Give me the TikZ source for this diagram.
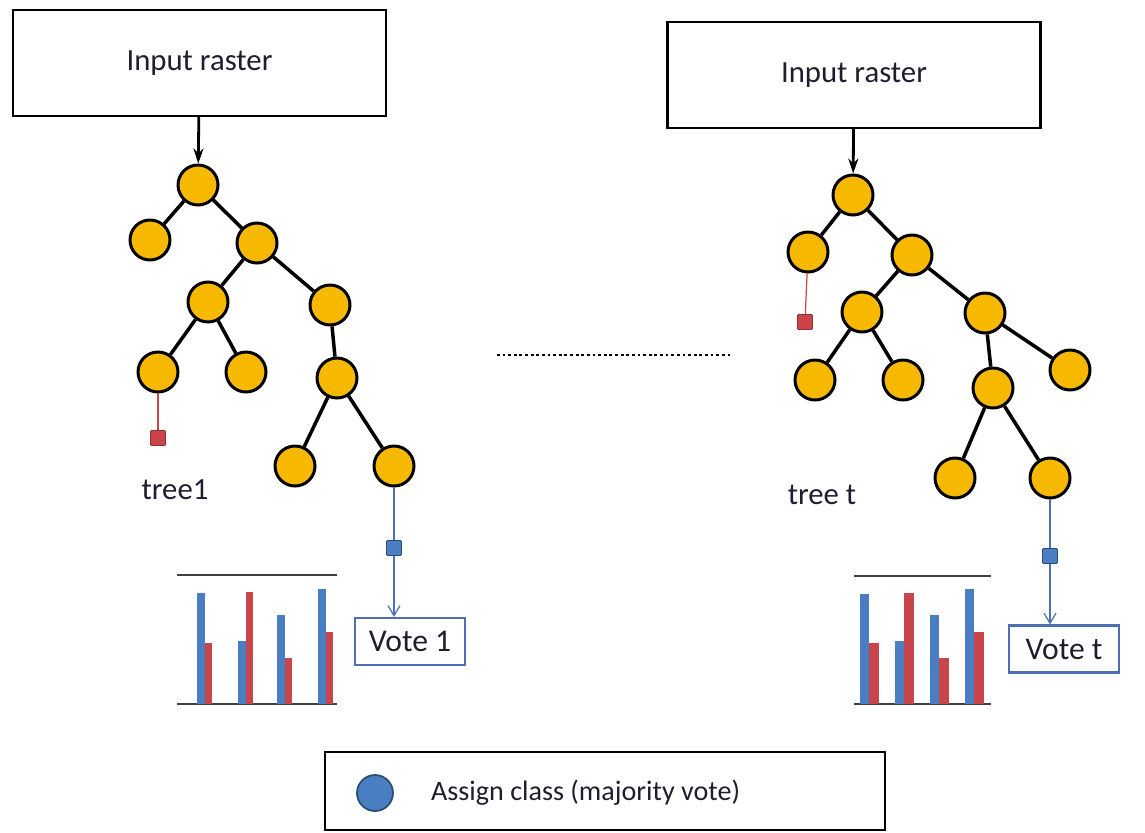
\documentclass[tikz,border=0pt]{standalone}
\usepackage{fontspec}
\setmainfont{Carlito}
\usetikzlibrary{arrows.meta, positioning}

\definecolor{gold}{HTML}{F7B900}
\definecolor{barblue}{HTML}{4A7EC2}
\definecolor{barred}{HTML}{C9454A}
\definecolor{voteblue}{HTML}{4F6FB5}
\definecolor{inkc}{HTML}{1E1E2E}

\begin{document}
\begin{tikzpicture}[x=0.02cm, y=-0.02cm,
        nd/.style={circle, draw=black, line width=1.7pt, fill=gold,
                   minimum size=0.8cm, inner sep=0pt},
        edge/.style={line width=2pt, black},
        inbox/.style={rectangle, draw=black, line width=1.4pt,
                      minimum width=7.46cm, minimum height=2.12cm,
                      font=\fontsize{17.5}{20}\selectfont, text=inkc},
        votebox/.style={rectangle, draw=voteblue, line width=1.3pt,
                        minimum width=2.2cm, minimum height=0.94cm,
                        font=\fontsize{18}{21}\selectfont, text=inkc},
        redsq/.style={rectangle, draw=barred!70!black, fill=barred,
                      minimum size=0.3cm, inner sep=0pt, rounded corners=0.5pt},
        bluesq/.style={rectangle, draw=barblue!60!black, fill=barblue,
                       minimum size=0.3cm, inner sep=0pt, rounded corners=0.5pt},
        lbl/.style={font=\fontsize{17.5}{20}\selectfont, text=inkc},
        arr/.style={-{Stealth[length=3mm,width=2mm]}, line width=1.6pt, black},
        varr/.style={-{Straight Barb[length=2mm,width=2.4mm]}, line width=0.7pt, voteblue}]
      \useasboundingbox (0,0) rectangle (1145,832);

      % left tree
      \node[inbox] (in1) at (199.5,63) {Input raster};
      \node[nd] (a) at (198,185) {};
      \node[nd] (b) at (150,240) {};
      \node[nd] (c) at (257,243) {};
      \node[nd] (d) at (208,302) {};
      \node[nd] (e) at (330,305) {};
      \node[nd] (f) at (158,372) {};
      \node[nd] (g) at (246,372) {};
      \node[nd] (h) at (337,378) {};
      \node[nd] (i) at (295,466) {};
      \node[nd] (j) at (394,466) {};
      \node[redsq] (r1) at (158,438) {};
      \node[bluesq] (q1) at (394,548) {};
      \node[votebox] (v1) at (410,641.5) {Vote 1};
      \node[lbl] (t1) at (175,490) {tree1};
      \draw[arr] (in1) -- (a);
      \draw[edge] (a) -- (b);
      \draw[edge] (a) -- (c);
      \draw[edge] (c) -- (d);
      \draw[edge] (c) -- (e);
      \draw[edge] (d) -- (f);
      \draw[edge] (d) -- (g);
      \draw[edge] (e) -- (h);
      \draw[edge] (h) -- (i);
      \draw[edge] (h) -- (j);
      \draw[barred, line width=0.7pt] (f) -- (r1);
      \draw[voteblue, line width=0.7pt] (j) -- (q1);
      \draw[varr] (q1) -- (q1 |- v1.north);

      % left chart
      \draw[line width=0.6pt, black!75] (177,575) -- (337,575);
      \draw[line width=0.6pt, black!75] (177,704) -- (337,704);
      \foreach \x/\bt/\rt in {197/593/643, 238/641/592, 277/615/658, 318/589/632} {
        \fill[barblue] (\x,\bt) rectangle (\x+8,704);
        \fill[barred] (\x+8,\rt) rectangle (\x+15,704);
      }

      % dots between the trees
      \draw[line width=1.6pt, dash pattern=on 1.6pt off 1.6pt] (497,355) -- (730,355);

      % right tree
      \node[inbox] (in2) at (854,75) {Input raster};
      \node[nd] (ra) at (853,195) {};
      \node[nd] (rb) at (808,252) {};
      \node[nd] (rc) at (912,255) {};
      \node[nd] (rd) at (862,312) {};
      \node[nd] (re) at (985,313) {};
      \node[nd] (rf) at (815,380) {};
      \node[nd] (rg) at (903,380) {};
      \node[nd] (rh) at (993,388) {};
      \node[nd] (ri) at (1070,370) {};
      \node[nd] (rj) at (955,478) {};
      \node[nd] (rk) at (1050,478) {};
      \node[redsq] (r2) at (805,322) {};
      \node[bluesq] (q2) at (1050,556) {};
      \node[votebox] (v2) at (1064,649) {Vote t};
      \node[lbl] (t2) at (822,495) {tree t};
      \draw[arr] (in2) -- (ra);
      \draw[edge] (ra) -- (rb);
      \draw[edge] (ra) -- (rc);
      \draw[edge] (rc) -- (rd);
      \draw[edge] (rc) -- (re);
      \draw[edge] (rd) -- (rf);
      \draw[edge] (rd) -- (rg);
      \draw[edge] (re) -- (rh);
      \draw[edge] (re) -- (ri);
      \draw[edge] (rh) -- (rj);
      \draw[edge] (rh) -- (rk);
      \draw[barred, line width=0.7pt] (rb) -- (r2);
      \draw[voteblue, line width=0.7pt] (rk) -- (q2);
      \draw[varr] (q2) -- (q2 |- v2.north);

      % right chart
      \draw[line width=0.6pt, black!75] (854,576) -- (991,576);
      \draw[line width=0.6pt, black!75] (854,704) -- (991,704);
      \foreach \x/\bt/\rt in {860/594/643, 895/641/593, 930/615/658, 965/589/632} {
        \fill[barblue] (\x,\bt) rectangle (\x+9,704);
        \fill[barred] (\x+9,\rt) rectangle (\x+19,704);
      }

      % legend
      \node[rectangle, draw=black, line width=1.4pt, minimum width=11.2cm,
            minimum height=1.56cm] (leg) at (605,791) {};
      \node[circle, draw=barblue!60!black, line width=1pt, fill=barblue,
            minimum size=0.72cm, inner sep=0pt] (dot) at (375,793) {};
      \node[lbl, anchor=west, font=\fontsize{16}{19}\selectfont] (legtxt) at (425,793)
            {Assign class (majority vote)};
    \end{tikzpicture}
\end{document}
